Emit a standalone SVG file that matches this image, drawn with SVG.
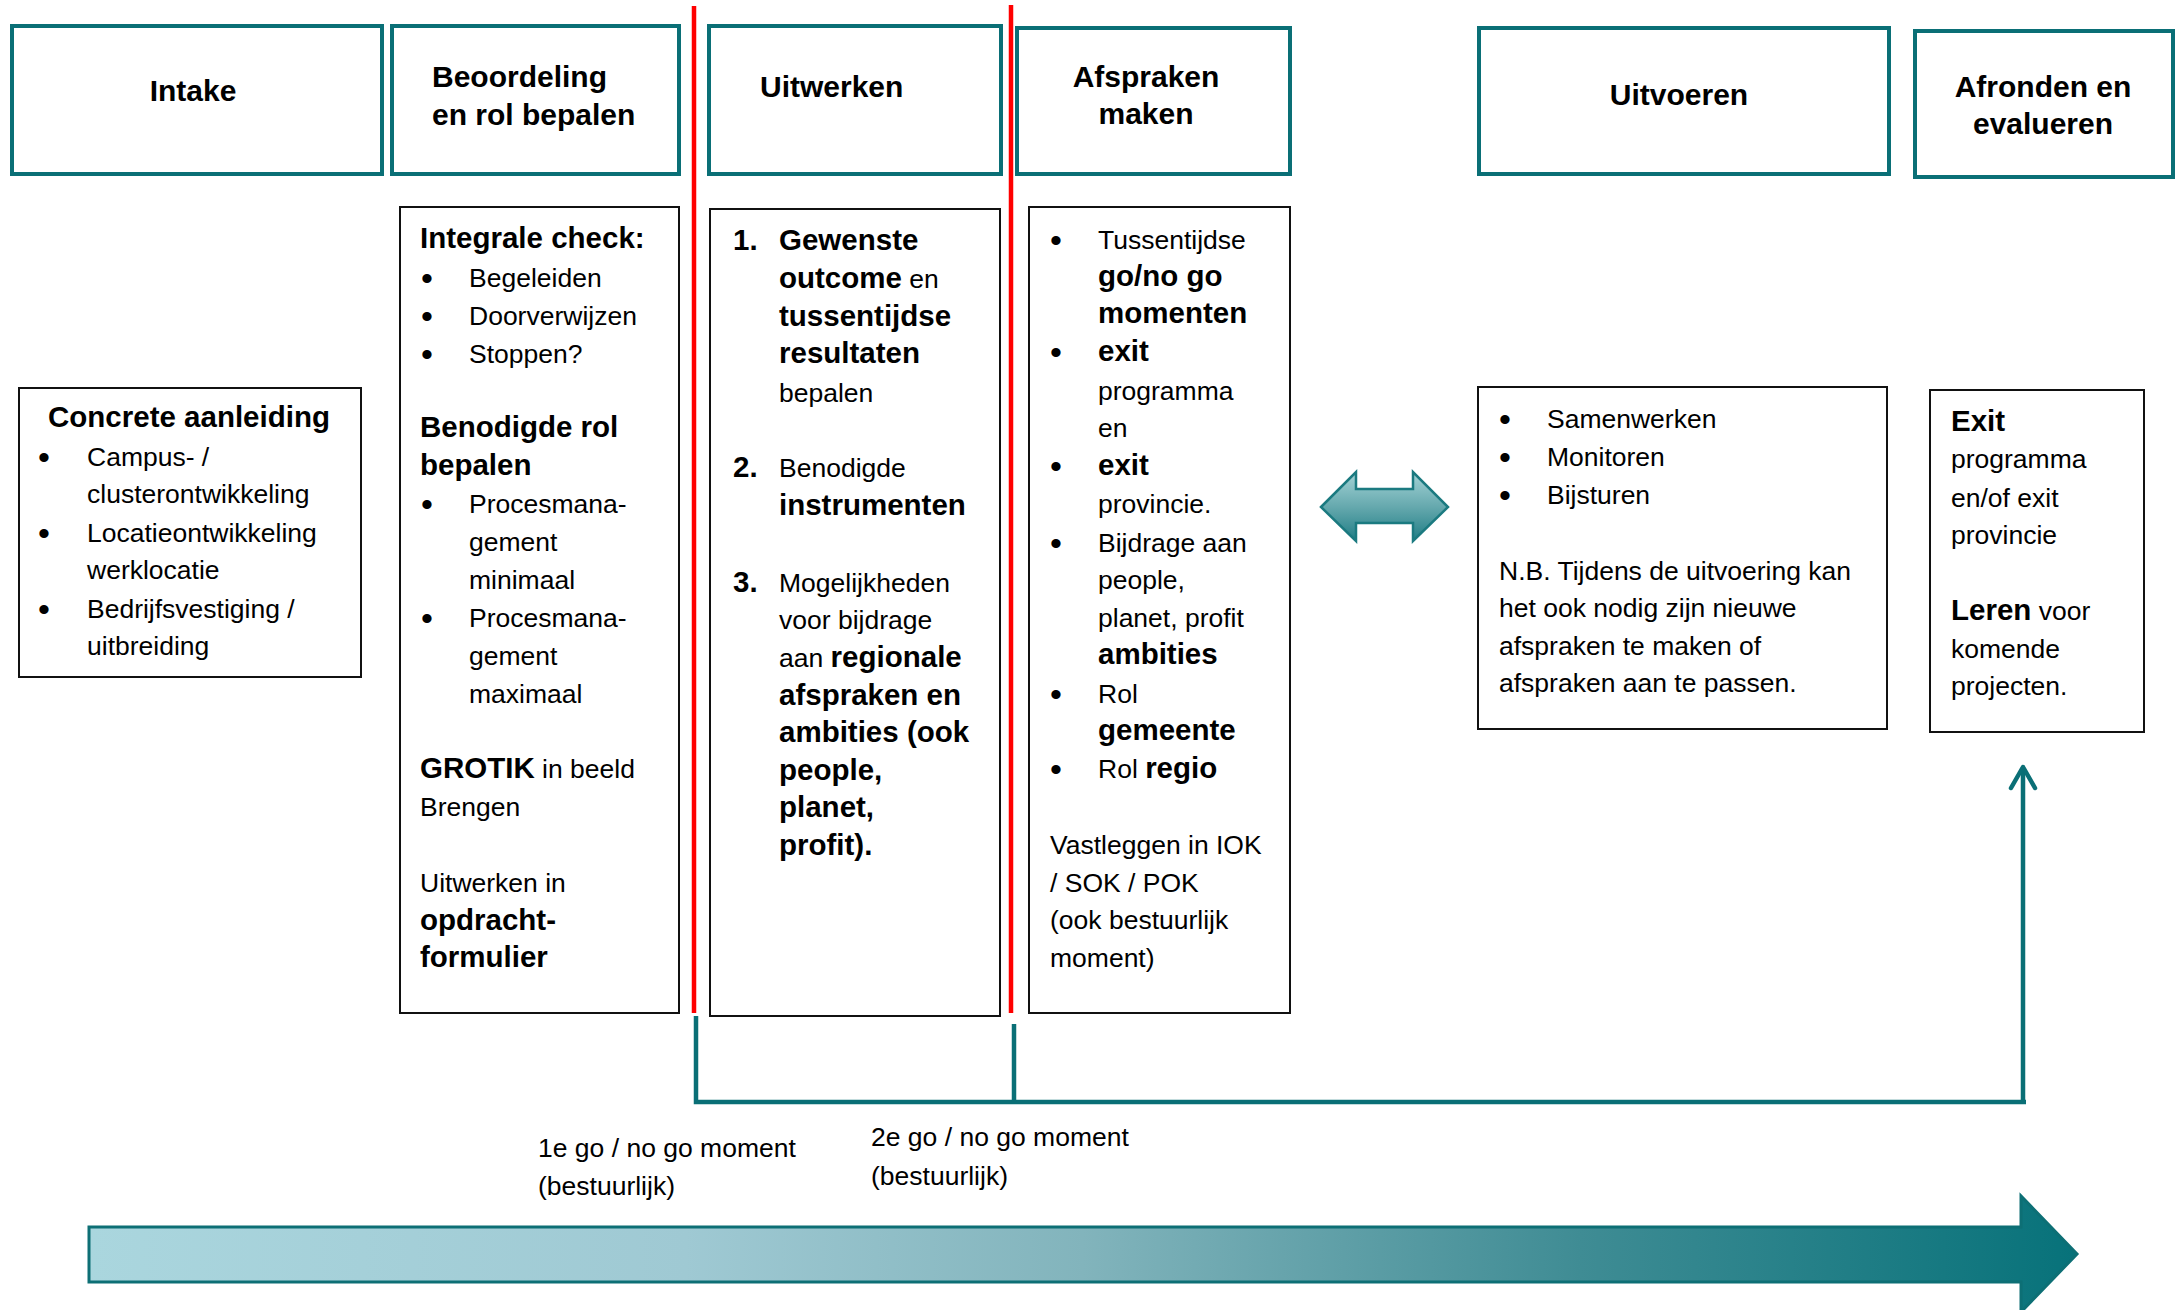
<svg xmlns="http://www.w3.org/2000/svg" width="2176" height="1310" viewBox="0 0 2176 1310">
<style>
text{font-family:"Liberation Sans",Arial,sans-serif;fill:#000}
.h{font-size:30px;font-weight:bold}
.t{font-size:26.5px}
.tb{font-size:29.5px;font-weight:bold}
.b{font-size:29.5px;font-weight:bold}
.bul{font-size:34px;text-anchor:middle}
.hd{fill:#fff;stroke:#0a6f76;stroke-width:4}
.bx{fill:#fff;stroke:#111;stroke-width:2}
.red{stroke:#ff0000;stroke-width:4.5;fill:none}
.con{stroke:#0a6f76;stroke-width:4.5;fill:none}
</style>
<defs>
<linearGradient id="big" x1="0" y1="0" x2="1" y2="0">
<stop offset="0" stop-color="#aad6de"/>
<stop offset="0.3" stop-color="#9fc9d3"/>
<stop offset="0.5" stop-color="#82b4bc"/>
<stop offset="0.75" stop-color="#3f8c94"/>
<stop offset="1" stop-color="#07727a"/>
</linearGradient>
<linearGradient id="dbl" x1="0" y1="0" x2="0" y2="1">
<stop offset="0" stop-color="#a4d3d6"/>
<stop offset="0.5" stop-color="#66a9ae"/>
<stop offset="1" stop-color="#1f7d85"/>
</linearGradient>
</defs>

<g id="phase-intake">
<rect class="hd" x="12" y="26" width="370" height="148"/>
<text class="h" x="193" y="101" text-anchor="middle">Intake</text>
</g>
<g id="phase-beoordeling">
<rect class="hd" x="392" y="26" width="287" height="148"/>
<text class="h" x="432" y="87">Beoordeling</text>
<text class="h" x="432" y="125">en rol bepalen</text>
</g>
<g id="phase-uitwerken">
<rect class="hd" x="709" y="26" width="292" height="148"/>
<text class="h" x="760" y="97">Uitwerken</text>
</g>
<g id="phase-afspraken">
<rect class="hd" x="1017" y="28" width="273" height="146"/>
<text class="h" x="1146" y="87" text-anchor="middle">Afspraken</text>
<text class="h" x="1146" y="124" text-anchor="middle">maken</text>
</g>
<g id="phase-uitvoeren">
<rect class="hd" x="1479" y="28" width="410" height="146"/>
<text class="h" x="1679" y="105" text-anchor="middle">Uitvoeren</text>
</g>
<g id="phase-afronden">
<rect class="hd" x="1915" y="31" width="258" height="146"/>
<text class="h" x="2043" y="97" text-anchor="middle">Afronden en</text>
<text class="h" x="2043" y="134" text-anchor="middle">evalueren</text>
</g>

<g id="red-lines">
<line class="red" x1="694" y1="6" x2="694" y2="1013"/>
<line class="red" x1="1011" y1="5" x2="1011" y2="1013"/>
</g>

<g id="box-concrete">
<rect class="bx" x="19" y="388" width="342" height="289"/>
<text class="tb" x="48" y="427">Concrete aanleiding</text>
<text class="bul" x="44" y="469">•</text>
<text class="bul" x="44" y="545">•</text>
<text class="bul" x="44" y="621">•</text>
<text class="t" x="87" y="466">Campus- /</text>
<text class="t" x="87" y="503">clusterontwikkeling</text>
<text class="t" x="87" y="542">Locatieontwikkeling</text>
<text class="t" x="87" y="579">werklocatie</text>
<text class="t" x="87" y="618">Bedrijfsvestiging /</text>
<text class="t" x="87" y="655">uitbreiding</text>
</g>

<g id="box-beoordeling">
<rect class="bx" x="400" y="207" width="279" height="806"/>
<text class="tb" x="420" y="248">Integrale check:</text>
<text class="bul" x="427" y="290">•</text>
<text class="bul" x="427" y="328">•</text>
<text class="bul" x="427" y="366">•</text>
<text class="t" x="469" y="287">Begeleiden</text>
<text class="t" x="469" y="325">Doorverwijzen</text>
<text class="t" x="469" y="363">Stoppen?</text>
<text class="tb" x="420" y="437">Benodigde rol</text>
<text class="tb" x="420" y="475">bepalen</text>
<text class="bul" x="427" y="516">•</text>
<text class="t" x="469" y="513">Procesmana-</text>
<text class="t" x="469" y="551">gement</text>
<text class="t" x="469" y="589">minimaal</text>
<text class="bul" x="427" y="630">•</text>
<text class="t" x="469" y="627">Procesmana-</text>
<text class="t" x="469" y="665">gement</text>
<text class="t" x="469" y="703">maximaal</text>
<text class="t" x="420" y="778"><tspan class="b">GROTIK</tspan> in beeld</text>
<text class="t" x="420" y="816">Brengen</text>
<text class="t" x="420" y="892">Uitwerken in</text>
<text class="tb" x="420" y="930">opdracht-</text>
<text class="tb" x="420" y="967">formulier</text>
</g>

<g id="box-uitwerken">
<rect class="bx" x="710" y="209" width="290" height="807"/>
<text class="tb" x="733" y="250">1.</text>
<text class="tb" x="779" y="250">Gewenste</text>
<text class="t" x="779" y="288"><tspan class="b">outcome</tspan> en</text>
<text class="tb" x="779" y="326">tussentijdse</text>
<text class="tb" x="779" y="363">resultaten</text>
<text class="t" x="779" y="402">bepalen</text>
<text class="tb" x="733" y="477">2.</text>
<text class="t" x="779" y="477">Benodigde</text>
<text class="tb" x="779" y="515">instrumenten</text>
<text class="tb" x="733" y="592">3.</text>
<text class="t" x="779" y="592">Mogelijkheden</text>
<text class="t" x="779" y="629">voor bijdrage</text>
<text class="t" x="779" y="667">aan <tspan class="b">regionale</tspan></text>
<text class="tb" x="779" y="705">afspraken en</text>
<text class="tb" x="779" y="742">ambities (ook</text>
<text class="tb" x="779" y="780">people,</text>
<text class="tb" x="779" y="817">planet,</text>
<text class="tb" x="779" y="855">profit).</text>
</g>

<g id="box-afspraken">
<rect class="bx" x="1029" y="207" width="261" height="806"/>
<text class="bul" x="1056" y="252">•</text>
<text class="t" x="1098" y="249">Tussentijdse</text>
<text class="tb" x="1098" y="286">go/no go</text>
<text class="tb" x="1098" y="323">momenten</text>
<text class="bul" x="1056" y="364">•</text>
<text class="tb" x="1098" y="361">exit</text>
<text class="t" x="1098" y="400">programma</text>
<text class="t" x="1098" y="437">en</text>
<text class="bul" x="1056" y="478">•</text>
<text class="tb" x="1098" y="475">exit</text>
<text class="t" x="1098" y="513">provincie.</text>
<text class="bul" x="1056" y="555">•</text>
<text class="t" x="1098" y="552">Bijdrage aan</text>
<text class="t" x="1098" y="589">people,</text>
<text class="t" x="1098" y="627">planet, profit</text>
<text class="tb" x="1098" y="664">ambities</text>
<text class="bul" x="1056" y="706">•</text>
<text class="t" x="1098" y="703">Rol</text>
<text class="tb" x="1098" y="740">gemeente</text>
<text class="bul" x="1056" y="781">•</text>
<text class="t" x="1098" y="778">Rol <tspan class="b">regio</tspan></text>
<text class="t" x="1050" y="854">Vastleggen in IOK</text>
<text class="t" x="1050" y="892">/ SOK / POK</text>
<text class="t" x="1050" y="929">(ook bestuurlijk</text>
<text class="t" x="1050" y="967">moment)</text>
</g>

<g id="double-arrow">
<polygon points="1321,507 1356,472 1356,489 1413,489 1413,472 1448,507 1413,541 1413,523 1356,523 1356,541" fill="url(#dbl)" stroke="#1b7a80" stroke-width="2.5" stroke-linejoin="miter"/>
</g>

<g id="box-uitvoeren">
<rect class="bx" x="1478" y="387" width="409" height="342"/>
<text class="bul" x="1505" y="431">•</text>
<text class="bul" x="1505" y="469">•</text>
<text class="bul" x="1505" y="507">•</text>
<text class="t" x="1547" y="428">Samenwerken</text>
<text class="t" x="1547" y="466">Monitoren</text>
<text class="t" x="1547" y="504">Bijsturen</text>
<text class="t" x="1499" y="580">N.B. Tijdens de uitvoering kan</text>
<text class="t" x="1499" y="617">het ook nodig zijn nieuwe</text>
<text class="t" x="1499" y="655">afspraken te maken of</text>
<text class="t" x="1499" y="692">afspraken aan te passen.</text>
</g>

<g id="box-afronden">
<rect class="bx" x="1930" y="390" width="214" height="342"/>
<text class="tb" x="1951" y="431">Exit</text>
<text class="t" x="1951" y="468">programma</text>
<text class="t" x="1951" y="507">en/of exit</text>
<text class="t" x="1951" y="544">provincie</text>
<text class="t" x="1951" y="620"><tspan class="b">Leren</tspan> voor</text>
<text class="t" x="1951" y="658">komende</text>
<text class="t" x="1951" y="695">projecten.</text>
</g>

<g id="connectors">
<path class="con" d="M696 1016 V1102 H2026"/>
<path class="con" d="M1014 1024 V1102"/>
<path class="con" d="M2023 1102 V768"/>
<path class="con" d="M2011 788 L2023 767 L2035 788" stroke-linecap="round" stroke-linejoin="round"/>
</g>

<g id="gonogo-labels">
<text class="t" x="538" y="1157">1e go / no go moment</text>
<text class="t" x="538" y="1195">(bestuurlijk)</text>
<text class="t" x="871" y="1146">2e go / no go moment</text>
<text class="t" x="871" y="1185">(bestuurlijk)</text>
</g>

<g id="timeline-arrow">
<polygon points="89,1227 2021,1227 2021,1196 2077,1254 2021,1312 2021,1282 89,1282" fill="url(#big)" stroke="#0d6f75" stroke-width="3"/>
</g>
</svg>
